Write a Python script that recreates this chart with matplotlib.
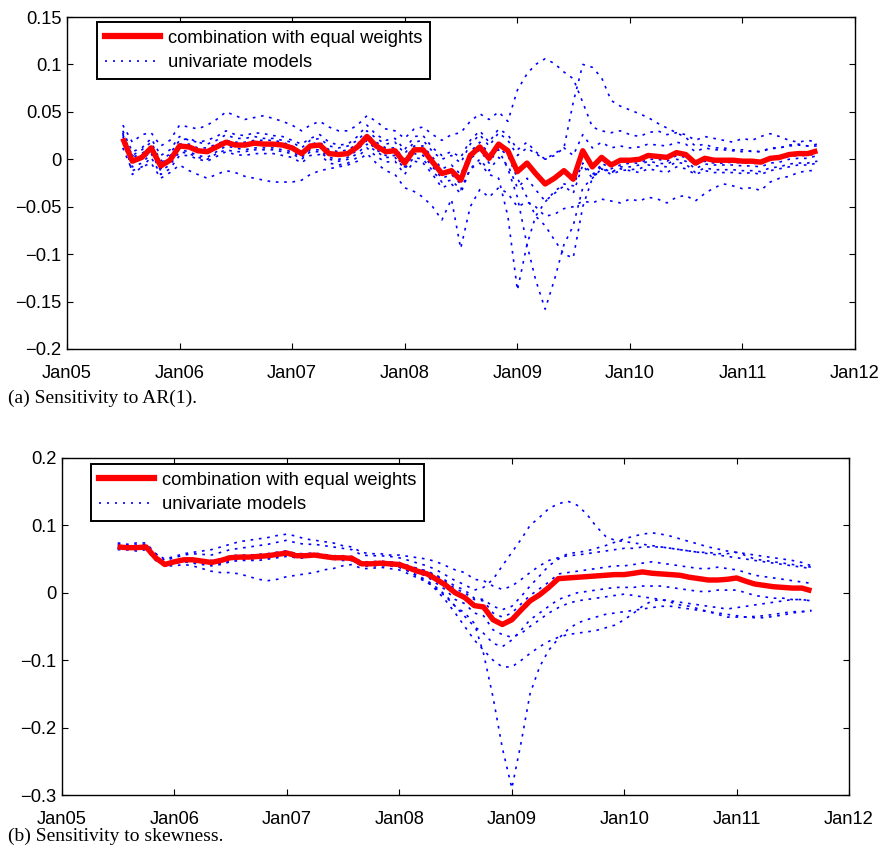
import numpy as np
import pandas as pd
import matplotlib
matplotlib.use('Agg')
import matplotlib.pyplot as plt
import matplotlib.dates as mdates
from matplotlib.lines import Line2D
from matplotlib.ticker import FixedLocator, FuncFormatter
import datetime as dt

# ---------------- data ----------------
months = pd.date_range('2005-07-01', '2011-09-01', freq='MS')
year_ticks = [dt.datetime(y, 1, 1) for y in range(2005, 2013)]

legend_labels = ['combination with equal weights', 'univariate models']
captions = ['(a) Sensitivity to AR(1).', '(b) Sensitivity to skewness.']

# Panel (a): combination with equal weights
comb_a = [0.022,-0.002,0.002,0.012,-0.007,-0.001,
          0.014,0.013,0.009,0.008,0.013,0.018,0.015,0.015,0.017,0.016,0.016,0.015,
          0.012,0.006,0.014,0.015,0.006,0.005,0.006,0.013,0.024,0.014,0.008,0.009,
          -0.004,0.010,0.010,-0.003,-0.015,-0.012,-0.022,0.004,0.013,0.001,0.016,0.009,
          -0.013,-0.004,-0.015,-0.026,-0.020,-0.012,-0.021,0.009,-0.008,0.002,-0.006,-0.001,
          -0.001,0.000,0.004,0.003,0.002,0.007,0.005,-0.004,0.001,-0.001,-0.001,-0.001,
          -0.002,-0.002,-0.003,0.001,0.002,0.005,0.006,0.006,0.009]

# Panel (a): univariate models
uni_a1 = [0.030,0.008,0.012,0.022,0.004,0.010,
          0.024,0.020,0.018,0.020,0.024,0.030,0.026,0.025,0.028,0.027,0.025,0.024,
          0.020,0.016,0.022,0.026,0.018,0.015,0.016,0.024,0.036,0.026,0.020,0.022,
          0.010,0.024,0.025,0.012,0.004,0.008,0.002,0.020,0.030,0.018,0.032,0.026,
          0.010,0.018,0.008,0.000,0.006,0.012,0.004,0.026,0.012,0.018,0.012,0.014,
          0.012,0.013,0.016,0.015,0.014,0.018,0.016,0.008,0.012,0.010,0.010,0.009,
          0.008,0.009,0.008,0.011,0.012,0.014,0.015,0.014,0.016]
uni_a2 = [0.012,-0.012,-0.008,0.002,-0.016,-0.010,
          0.004,0.004,0.000,-0.002,0.003,0.008,0.005,0.004,0.006,0.006,0.006,0.004,
          0.002,-0.004,0.004,0.005,-0.004,-0.006,-0.004,0.002,0.012,0.003,-0.003,-0.002,
          -0.016,-0.002,-0.004,-0.016,-0.030,-0.026,-0.036,-0.010,0.000,-0.012,0.002,-0.006,
          -0.030,-0.020,-0.032,-0.044,-0.036,-0.028,-0.036,-0.006,-0.020,-0.010,-0.016,-0.012,
          -0.011,-0.010,-0.006,-0.007,-0.008,-0.003,-0.005,-0.014,-0.009,-0.011,-0.011,-0.011,
          -0.012,-0.012,-0.013,-0.009,-0.008,-0.005,-0.004,-0.004,-0.002]
uni_a3 = [0.036,0.018,0.026,0.028,0.014,0.020,
          0.036,0.034,0.032,0.036,0.042,0.050,0.046,0.042,0.044,0.046,0.043,0.040,
          0.036,0.030,0.036,0.040,0.034,0.030,0.030,0.036,0.046,0.040,0.032,0.030,
          0.022,0.032,0.034,0.026,0.020,0.026,0.028,0.040,0.048,0.042,0.050,0.040,
          0.073,0.090,0.100,0.106,0.101,0.092,0.085,0.060,0.034,0.030,0.028,0.030,
          0.026,0.024,0.028,0.030,0.026,0.028,0.026,0.020,0.024,0.022,0.020,0.018,
          0.022,0.020,0.024,0.027,0.024,0.020,0.018,0.020,0.018]
uni_a4 = [0.026,0.004,0.010,0.018,-0.002,0.006,
          0.020,0.022,0.018,0.016,0.020,0.026,0.022,0.022,0.024,0.022,0.022,0.020,
          0.018,0.012,0.020,0.022,0.014,0.012,0.014,0.020,0.030,0.022,0.016,0.018,
          0.006,0.018,0.020,0.008,0.000,0.004,-0.004,0.016,0.026,0.014,0.028,0.020,
          0.004,0.012,0.006,0.000,0.004,0.012,0.060,0.100,0.097,0.086,0.062,0.056,
          0.052,0.048,0.044,0.038,0.033,0.028,0.023,0.014,0.016,0.012,0.012,0.010,
          0.010,0.008,0.008,0.012,0.012,0.015,0.016,0.014,0.014]
uni_a5 = [0.028,-0.016,-0.008,-0.004,-0.020,-0.014,
          -0.006,-0.012,-0.016,-0.020,-0.016,-0.012,-0.014,-0.018,-0.020,-0.022,-0.024,-0.024,
          -0.024,-0.022,-0.016,-0.012,-0.010,-0.008,-0.006,-0.002,0.006,-0.004,-0.012,-0.016,
          -0.030,-0.034,-0.040,-0.050,-0.064,-0.042,-0.094,-0.050,-0.032,-0.040,-0.030,-0.036,
          -0.050,-0.045,-0.050,-0.060,-0.058,-0.052,-0.050,-0.044,-0.046,-0.042,-0.044,-0.046,
          -0.042,-0.044,-0.040,-0.042,-0.046,-0.040,-0.038,-0.044,-0.036,-0.030,-0.026,-0.028,
          -0.031,-0.030,-0.033,-0.024,-0.020,-0.018,-0.014,-0.012,-0.012]
uni_a6 = [0.018,-0.008,-0.004,0.006,-0.012,-0.006,
          0.008,0.006,0.002,0.000,0.006,0.010,0.008,0.008,0.010,0.010,0.010,0.008,
          0.006,0.000,0.008,0.008,0.000,-0.002,0.000,0.006,0.016,0.008,0.002,0.002,
          -0.010,0.002,0.000,-0.012,-0.024,-0.022,-0.032,-0.010,-0.004,-0.016,-0.020,-0.060,
          -0.138,-0.090,-0.060,-0.045,-0.034,-0.026,-0.028,-0.004,-0.016,-0.008,-0.014,-0.008,
          -0.008,-0.006,-0.002,-0.004,-0.005,0.000,-0.002,-0.010,-0.005,-0.006,-0.006,-0.006,
          -0.007,-0.007,-0.008,-0.004,-0.003,0.000,0.001,0.001,0.004]
uni_a7 = [0.024,0.002,0.006,0.014,-0.004,0.002,
          0.016,0.016,0.012,0.012,0.016,0.020,0.018,0.018,0.020,0.020,0.020,0.018,
          0.014,0.008,0.016,0.018,0.010,0.008,0.010,0.016,0.026,0.018,0.012,0.012,
          0.000,0.014,0.014,0.002,-0.010,-0.006,-0.016,0.008,0.018,0.006,0.010,-0.010,
          -0.040,-0.090,-0.127,-0.158,-0.127,-0.090,-0.070,-0.030,-0.020,-0.010,-0.014,-0.010,
          -0.012,-0.014,-0.010,-0.012,-0.014,-0.008,-0.010,-0.016,-0.012,-0.014,-0.014,-0.014,
          -0.015,-0.014,-0.016,-0.012,-0.010,-0.008,-0.006,-0.006,-0.004]
uni_a8 = [0.020,0.004,0.000,0.008,-0.010,0.004,
          0.010,0.008,0.004,0.002,0.008,0.014,0.012,0.010,0.012,0.012,0.012,0.010,
          0.008,0.002,0.010,0.010,0.002,0.000,0.002,0.010,0.020,0.010,0.004,0.004,
          -0.008,0.006,0.004,-0.008,-0.020,-0.016,-0.026,0.000,0.010,-0.004,0.012,0.004,
          -0.020,-0.040,-0.060,-0.070,-0.085,-0.100,-0.104,-0.050,-0.020,-0.004,-0.010,-0.006,
          -0.004,-0.004,0.000,0.000,-0.002,0.004,0.002,-0.006,-0.002,-0.004,-0.004,-0.003,
          -0.004,-0.004,-0.005,-0.001,0.000,0.003,0.004,0.004,0.006]

# Panel (b): combination with equal weights
comb_b = [0.068,0.067,0.067,0.068,0.052,0.042,
          0.046,0.049,0.049,0.047,0.045,0.048,0.052,0.053,0.053,0.054,0.055,0.057,
          0.059,0.055,0.055,0.056,0.054,0.052,0.052,0.051,0.043,0.043,0.044,0.043,
          0.042,0.037,0.032,0.028,0.020,0.011,0.000,-0.007,-0.019,-0.021,-0.040,-0.047,
          -0.040,-0.025,-0.012,-0.003,0.008,0.021,0.022,0.023,0.024,0.025,0.026,0.027,
          0.027,0.029,0.031,0.029,0.028,0.027,0.026,0.023,0.021,0.019,0.019,0.020,
          0.022,0.017,0.013,0.011,0.009,0.008,0.007,0.007,0.003]

# Panel (b): univariate models
uni_b1 = [0.072,0.070,0.071,0.072,0.058,0.048,
          0.052,0.056,0.058,0.057,0.056,0.060,0.064,0.066,0.068,0.070,0.072,0.075,
          0.078,0.074,0.072,0.072,0.070,0.068,0.066,0.064,0.056,0.055,0.055,0.054,
          0.052,0.048,0.044,0.040,0.034,0.026,0.018,0.012,0.004,0.008,0.020,0.040,
          0.060,0.080,0.100,0.112,0.125,0.132,0.136,0.130,0.117,0.099,0.084,0.078,
          0.076,0.074,0.072,0.070,0.068,0.066,0.064,0.062,0.060,0.060,0.058,0.058,
          0.060,0.055,0.050,0.048,0.046,0.044,0.042,0.040,0.038]
uni_b2 = [0.066,0.064,0.066,0.067,0.050,0.040,
          0.044,0.048,0.048,0.046,0.044,0.048,0.052,0.054,0.055,0.056,0.058,0.060,
          0.062,0.058,0.058,0.058,0.056,0.054,0.054,0.052,0.045,0.044,0.046,0.045,
          0.044,0.040,0.036,0.032,0.026,0.018,0.010,0.004,-0.008,-0.010,-0.020,-0.025,
          -0.020,-0.005,0.010,0.025,0.040,0.050,0.058,0.060,0.062,0.066,0.070,0.075,
          0.080,0.084,0.087,0.089,0.087,0.084,0.080,0.076,0.072,0.068,0.065,0.062,
          0.060,0.058,0.056,0.054,0.052,0.050,0.048,0.045,0.040]
uni_b3 = [0.064,0.064,0.062,0.064,0.048,0.040,
          0.040,0.042,0.040,0.036,0.032,0.030,0.030,0.028,0.024,0.020,0.018,0.020,
          0.024,0.026,0.028,0.030,0.034,0.036,0.040,0.042,0.036,0.036,0.038,0.036,
          0.034,0.028,0.022,0.016,0.006,-0.006,-0.020,-0.030,-0.045,-0.090,-0.155,-0.230,
          -0.290,-0.220,-0.150,-0.110,-0.085,-0.068,-0.055,-0.045,-0.040,-0.036,-0.032,-0.030,
          -0.028,-0.026,-0.024,-0.022,-0.020,-0.020,-0.022,-0.024,-0.026,-0.028,-0.030,-0.032,
          -0.034,-0.036,-0.037,-0.037,-0.035,-0.033,-0.030,-0.028,-0.027]
uni_b4 = [0.068,0.066,0.068,0.070,0.054,0.044,
          0.046,0.046,0.044,0.042,0.040,0.042,0.046,0.048,0.048,0.048,0.050,0.052,
          0.054,0.052,0.052,0.054,0.052,0.050,0.050,0.048,0.040,0.040,0.042,0.040,
          0.038,0.032,0.024,0.016,0.004,-0.012,-0.030,-0.050,-0.070,-0.085,-0.100,-0.110,
          -0.110,-0.100,-0.090,-0.080,-0.072,-0.066,-0.062,-0.060,-0.058,-0.056,-0.052,-0.048,
          -0.040,-0.030,-0.020,-0.012,-0.010,-0.012,-0.014,-0.016,-0.018,-0.020,-0.022,-0.024,
          -0.022,-0.020,-0.018,-0.016,-0.014,-0.012,-0.010,-0.010,-0.012]
uni_b5 = [0.074,0.072,0.074,0.074,0.058,0.050,
          0.054,0.058,0.060,0.062,0.064,0.068,0.072,0.076,0.078,0.080,0.082,0.085,
          0.087,0.084,0.080,0.078,0.076,0.074,0.070,0.068,0.060,0.058,0.058,0.056,
          0.056,0.054,0.052,0.050,0.046,0.040,0.034,0.030,0.020,0.018,0.010,0.005,
          0.010,0.020,0.030,0.040,0.048,0.052,0.055,0.056,0.058,0.060,0.062,0.064,
          0.066,0.066,0.068,0.068,0.068,0.066,0.064,0.062,0.060,0.058,0.056,0.054,
          0.052,0.050,0.048,0.046,0.044,0.042,0.040,0.038,0.036]
uni_b6 = [0.066,0.066,0.065,0.066,0.050,0.040,
          0.044,0.046,0.046,0.044,0.042,0.044,0.048,0.050,0.050,0.051,0.052,0.054,
          0.056,0.052,0.052,0.054,0.052,0.050,0.048,0.048,0.040,0.040,0.040,0.040,
          0.038,0.032,0.026,0.018,0.008,-0.004,-0.020,-0.035,-0.050,-0.060,-0.075,-0.080,
          -0.070,-0.055,-0.040,-0.030,-0.020,-0.010,-0.005,0.000,0.002,0.004,0.006,0.008,
          0.008,0.008,0.010,0.010,0.010,0.008,0.006,0.004,0.002,0.002,0.004,0.004,
          0.004,0.000,-0.004,-0.006,-0.008,-0.008,-0.010,-0.010,-0.012]
uni_b7 = [0.070,0.068,0.069,0.070,0.054,0.044,
          0.048,0.050,0.050,0.049,0.048,0.050,0.055,0.056,0.056,0.057,0.058,0.060,
          0.062,0.058,0.058,0.059,0.057,0.055,0.055,0.054,0.046,0.046,0.047,0.046,
          0.045,0.040,0.036,0.032,0.025,0.016,0.006,0.000,-0.010,-0.012,-0.030,-0.036,
          -0.030,-0.016,-0.004,0.006,0.016,0.028,0.030,0.032,0.034,0.036,0.038,0.040,
          0.040,0.042,0.044,0.046,0.044,0.042,0.040,0.038,0.036,0.036,0.038,0.036,
          0.034,0.030,0.026,0.024,0.022,0.020,0.018,0.016,0.014]
uni_b8 = [0.066,0.068,0.066,0.068,0.052,0.042,
          0.046,0.050,0.050,0.048,0.046,0.048,0.050,0.050,0.052,0.052,0.054,0.056,
          0.058,0.054,0.054,0.055,0.054,0.052,0.050,0.050,0.042,0.042,0.044,0.042,
          0.040,0.036,0.030,0.024,0.014,0.004,-0.010,-0.016,-0.030,-0.034,-0.055,-0.062,
          -0.066,-0.060,-0.050,-0.040,-0.030,-0.022,-0.016,-0.012,-0.010,-0.008,-0.006,-0.004,
          -0.002,-0.004,-0.006,-0.008,-0.010,-0.014,-0.018,-0.020,-0.024,-0.028,-0.032,-0.036,
          -0.036,-0.036,-0.035,-0.034,-0.032,-0.030,-0.028,-0.028,-0.026]

uni_a = [uni_a1, uni_a2, uni_a3, uni_a4, uni_a5, uni_a6, uni_a7, uni_a8]
uni_b = [uni_b1, uni_b2, uni_b3, uni_b4, uni_b5, uni_b6, uni_b7, uni_b8]

yticks_a = [-0.2, -0.15, -0.1, -0.05, 0, 0.05, 0.1, 0.15]
yticks_b = [-0.3, -0.2, -0.1, 0, 0.1, 0.2]

# ---------------- style ----------------
W, H = 882, 857
fig = plt.figure(figsize=(W / 100, H / 100), dpi=100)
plt.rcParams['font.family'] = ['Liberation Sans', 'DejaVu Sans']

FS = 13.2
BLUE_DASH = (0, (1.6, 3.4))


def px_axes(left, top, right, bottom):
    return fig.add_axes([left / W, 1 - bottom / H, (right - left) / W, (bottom - top) / H])


def yfmt(v, pos):
    s = '%g' % round(v, 4)
    if s in ('-0', '0.0'):
        s = '0'
    return s.replace('-', '\u2212')


def draw(ax, comb, unis, yticks, legend_anchor):
    for u in unis:
        ax.plot(months, u, color='#0000ff', linestyle=BLUE_DASH, linewidth=1.2)
    ax.plot(months, comb, color='#ff0000', linewidth=3.9, solid_joinstyle='round',
            solid_capstyle='butt')
    ax.set_xlim(year_ticks[0], year_ticks[-1])
    ax.set_ylim(yticks[0], yticks[-1])
    ax.xaxis.set_major_locator(FixedLocator(mdates.date2num(year_ticks)))
    ax.xaxis.set_major_formatter(mdates.DateFormatter('%b%y'))
    ax.yaxis.set_major_locator(FixedLocator(yticks))
    ax.yaxis.set_major_formatter(FuncFormatter(yfmt))
    ax.tick_params(direction='in', length=4, width=0.8, top=True, right=True,
                   labelsize=FS, colors='black')
    ax.tick_params(axis='x', pad=11.5)
    ax.tick_params(axis='y', pad=4)
    for sp in ax.spines.values():
        sp.set_linewidth(1.0)
        sp.set_color('black')
    handles = [Line2D([], [], color='#ff0000', linewidth=4.5),
               Line2D([], [], color='#0000ff', linestyle=(0, (1.2, 3.6)), linewidth=1.2)]
    leg = ax.legend(handles, legend_labels, loc='upper left', bbox_to_anchor=legend_anchor,
                    borderaxespad=0, fontsize=FS, frameon=True, fancybox=False,
                    handlelength=3.0, handletextpad=0.45, labelspacing=0.4,
                    borderpad=0.42)
    fr = leg.get_frame()
    fr.set_edgecolor('black')
    fr.set_linewidth(1.4)
    fr.set_alpha(1)


ax_a = px_axes(67, 17, 855, 349)
draw(ax_a, comb_a, uni_a, yticks_a, (30 / 788, 1 - 5 / 332))

ax_b = px_axes(62, 458, 849, 795)
draw(ax_b, comb_b, uni_b, yticks_b, (29 / 787, 1 - 6 / 337))

fig.text(8 / W, 1 - 398 / H, captions[0], family=['Liberation Serif'], fontsize=14,
         va='center', ha='left')
fig.text(8 / W, 1 - 836 / H, captions[1], family=['Liberation Serif'], fontsize=14,
         va='center', ha='left')

fig.savefig('out.png', dpi=100)
